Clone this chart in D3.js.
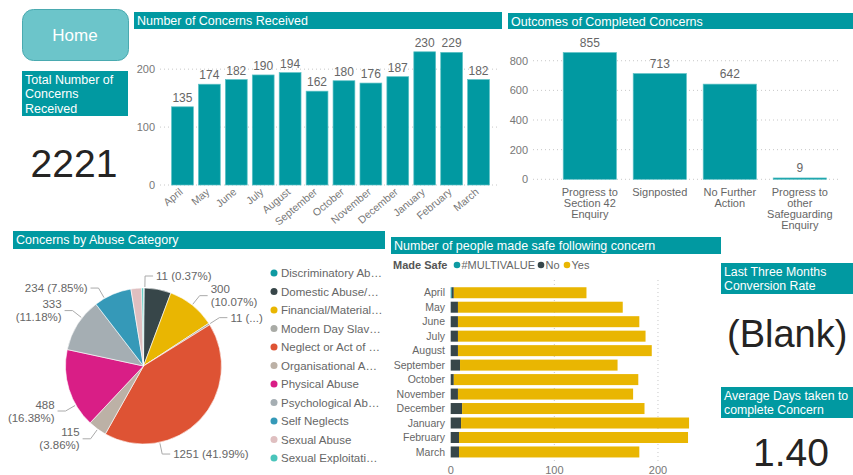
<!DOCTYPE html>
<html>
<head>
<meta charset="utf-8">
<script src="https://cdn.jsdelivr.net/npm/d3@7"></script>
<style>
body { margin: 0; background: #fff; }
svg { display: block; font-family: "Liberation Sans", Arial, sans-serif; }
</style>
</head>
<body>
<div id="chart"></div>
<script>
// ---- data ----
var months = ["April", "May", "June", "July", "August", "September", "October",
              "November", "December", "January", "February", "March"];
var concerns = [135, 174, 182, 190, 194, 162, 180, 176, 187, 230, 229, 182];
var concernTicks = [0, 100, 200];

var outcomeNames = ["Progress to Section 42 Enquiry", "Signposted", "No Further Action",
                    "Progress to other Safeguarding Enquiry"];
var outcomeLines = [["Progress to", "Section 42", "Enquiry"], ["Signposted"],
                    ["No Further", "Action"], ["Progress to", "other", "Safeguarding", "Enquiry"]];
var outcomeValues = [855, 713, 642, 9];
var outcomeTicks = [0, 200, 400, 600, 800];

var abuseCategories = ["Discriminatory Abuse", "Domestic Abuse/Violence", "Financial/Material Abuse",
                       "Modern Day Slavery", "Neglect or Act of Omission", "Organisational Abuse",
                       "Physical Abuse", "Psychological Abuse", "Self Neglects", "Sexual Abuse",
                       "Sexual Exploitation"];
var abuseLegend = ["Discriminatory Ab\u2026", "Domestic Abuse/\u2026", "Financial/Material\u2026",
                   "Modern Day Slav\u2026", "Neglect or Act of \u2026", "Organisational A\u2026",
                   "Physical Abuse", "Psychological Ab\u2026", "Self Neglects", "Sexual Abuse",
                   "Sexual Exploitati\u2026"];
var abuseValues = [5, 165, 300, 11, 1251, 115, 488, 333, 234, 66, 11];
var abuseColors = ["#0e9aa2", "#374649", "#e9b602", "#a9aba6", "#de5334", "#bcb1a6",
                   "#d91e86", "#a5aeb3", "#3599b8", "#dfbfc0", "#4ac5bb"];

var safeKeys = ["#MULTIVALUE", "No", "Yes"];
var safeColors = ["#0e9aa2", "#374649", "#e9b602"];
var safeMulti = [1, 0, 0, 0, 0, 0, 0, 0, 0, 0, 0, 0];
var safeNo = [2, 7, 7, 7, 7, 9, 3, 7, 11, 10, 8, 8];
var safeYes = [128, 159, 175, 181, 187, 152, 178, 169, 176, 220, 221, 174];
var safeTicks = [0, 100, 200];

var totalConcerns = "2221";
var conversionRate = "(Blank)";
var averageDays = "1.40";

// ---- layout ----
var W = 853, H = 475;
var teal = "#0199a1";
var grey = "#666";

var svg = d3.select("#chart").append("svg")
    .attr("width", W)
    .attr("height", H);

function header(x, y, w, h, lines, size) {
    svg.append("rect").attr("x", x).attr("y", y).attr("width", w).attr("height", h).attr("fill", teal);
    lines.forEach(function (t, i) {
        svg.append("text")
            .attr("x", x + 3)
            .attr("y", y + size + 0.5 + i * (size + 1.8))
            .attr("fill", "#fff")
            .attr("font-size", size)
            .text(t);
    });
}

// home button
svg.append("rect")
    .attr("x", 22.5).attr("y", 9.5).attr("width", 106).attr("height", 51)
    .attr("rx", 11).attr("fill", "#6cc5ca").attr("stroke", "#4aaab0");
svg.append("text")
    .attr("x", 75).attr("y", 41).attr("text-anchor", "middle")
    .attr("fill", "#fff").attr("font-size", 17).text("Home");

// total card
header(22, 71, 106, 45, ["Total Number of", "Concerns", "Received"], 12.5);
svg.append("text")
    .attr("x", 74).attr("y", 177).attr("text-anchor", "middle")
    .attr("fill", "#252423").attr("font-size", 39).text(totalConcerns);

// ---- Number of Concerns Received ----
header(134, 12, 368, 17, ["Number of Concerns Received"], 12.5);

var x1 = d3.scaleBand().domain(months).range([169, 492]).paddingInner(0.19).paddingOuter(0.095);
var y1 = d3.scaleLinear().domain([0, 240]).range([185, 46]);

var g1 = svg.append("g");
concernTicks.forEach(function (t) {
    g1.append("line")
        .attr("x1", 160).attr("x2", 500).attr("y1", y1(t)).attr("y2", y1(t))
        .attr("stroke", "#c8c8c8").attr("stroke-dasharray", "1,3");
    g1.append("text")
        .attr("x", 155).attr("y", y1(t)).attr("dy", "0.35em")
        .attr("text-anchor", "end").attr("fill", "#777").attr("font-size", 11).text(t);
});
g1.selectAll("rect.bar").data(concerns).enter().append("rect")
    .attr("class", "bar")
    .attr("x", function (d, i) { return x1(months[i]); })
    .attr("y", function (d) { return y1(d); })
    .attr("width", x1.bandwidth())
    .attr("height", function (d) { return y1(0) - y1(d); })
    .attr("fill", teal).attr("stroke", "#5cc1c5").attr("stroke-width", 0.7);
g1.selectAll("text.val").data(concerns).enter().append("text")
    .attr("class", "val")
    .attr("x", function (d, i) { return x1(months[i]) + x1.bandwidth() / 2; })
    .attr("y", function (d) { return y1(d) - 5; })
    .attr("text-anchor", "middle").attr("fill", grey).attr("font-size", 12)
    .text(function (d) { return d; });
g1.selectAll("text.mon").data(months).enter().append("text")
    .attr("class", "mon")
    .attr("transform", function (d) {
        return "translate(" + (x1(d) + x1.bandwidth() / 2 + 1) + ",193) rotate(-40)";
    })
    .attr("text-anchor", "end").attr("fill", "#777").attr("font-size", 10.5)
    .text(function (d) { return d; });

// ---- Outcomes of Completed Concerns ----
header(508, 13, 345, 16, ["Outcomes of Completed Concerns"], 12.5);

var x2 = d3.scaleBand().domain(outcomeNames).range([554.6, 835]).paddingInner(0.24).paddingOuter(0.123);
var y2 = d3.scaleLinear().domain([0, 900]).range([179.3, 45.9]);

var g2 = svg.append("g");
outcomeTicks.forEach(function (t) {
    g2.append("line")
        .attr("x1", 533).attr("x2", 838).attr("y1", y2(t)).attr("y2", y2(t))
        .attr("stroke", "#c8c8c8").attr("stroke-dasharray", "1,3");
    g2.append("text")
        .attr("x", 528).attr("y", y2(t)).attr("dy", "0.35em")
        .attr("text-anchor", "end").attr("fill", "#777").attr("font-size", 11).text(t);
});
g2.selectAll("rect").data(outcomeValues).enter().append("rect")
    .attr("x", function (d, i) { return x2(outcomeNames[i]); })
    .attr("y", function (d) { return y2(d); })
    .attr("width", x2.bandwidth())
    .attr("height", function (d) { return y2(0) - y2(d); })
    .attr("fill", teal).attr("stroke", "#5cc1c5").attr("stroke-width", 0.7);
g2.selectAll("text.val").data(outcomeValues).enter().append("text")
    .attr("class", "val")
    .attr("x", function (d, i) { return x2(outcomeNames[i]) + x2.bandwidth() / 2; })
    .attr("y", function (d) { return y2(d) - 6; })
    .attr("text-anchor", "middle").attr("fill", grey).attr("font-size", 12)
    .text(function (d) { return d; });
outcomeLines.forEach(function (lines, i) {
    lines.forEach(function (t, j) {
        g2.append("text")
            .attr("x", x2(outcomeNames[i]) + x2.bandwidth() / 2)
            .attr("y", 196 + j * 11)
            .attr("text-anchor", "middle").attr("fill", grey).attr("font-size", 11)
            .text(t);
    });
});

// ---- Concerns by Abuse Category ----
header(13, 231, 372, 18, ["Concerns by Abuse Category"], 12.5);

var cx = 143.5, cy = 366, R = 78;
var total = d3.sum(abuseValues);
var pie = d3.pie().sort(null).value(function (d) { return d; });
var arc = d3.arc().innerRadius(0).outerRadius(R);
var arcs = pie(abuseValues);

var g3 = svg.append("g").attr("transform", "translate(" + cx + "," + cy + ")");
g3.selectAll("path").data(arcs).enter().append("path")
    .attr("d", arc)
    .attr("fill", function (d, i) { return abuseColors[i]; })
    .attr("stroke", "#fff").attr("stroke-width", 0.6);

// where Power BI parked each data label (degrees clockwise from top), null = hidden
var labelAngle = [null, null, 38.6, 57.5, 168, 216, 240, 308, 330, null, 1];
var labelWrap = [false, false, true, false, false, true, true, true, false, false, false];

arcs.forEach(function (a, i) {
    if (labelAngle[i] === null) return;
    var ang = labelAngle[i] * Math.PI / 180;
    var sx = Math.sin(ang), sy = -Math.cos(ang);
    var side = sx >= 0 ? 1 : -1;
    var p0 = [sx * (R + 1), sy * (R + 1)];
    var p1 = [sx * (R + 12), sy * (R + 12)];
    var p2 = [p1[0] + side * 8, p1[1]];
    g3.append("polyline")
        .attr("points", [p0, p1, p2].map(function (p) { return p.join(","); }).join(" "))
        .attr("fill", "none").attr("stroke", "#aaa").attr("stroke-width", 1);
    var pct = (abuseValues[i] / total * 100).toFixed(2) + "%";
    var lines;
    if (abuseCategories[i] === "Modern Day Slavery") lines = [abuseValues[i] + " (...)"];
    else if (labelWrap[i]) lines = [String(abuseValues[i]), "(" + pct + ")"];
    else lines = [abuseValues[i] + " (" + pct + ")"];
    var t = g3.append("text")
        .attr("text-anchor", side > 0 ? "start" : "end")
        .attr("fill", grey).attr("font-size", 11.5);
    lines.forEach(function (s, j) {
        t.append("tspan")
            .attr("x", p2[0] + side * 3)
            .attr("y", p2[1] + 4 + (j - (lines.length - 1) / 2) * 13)
            .text(s);
    });
});

// legend
var lg = svg.append("g");
abuseLegend.forEach(function (name, i) {
    var yy = 273 + i * 18.5;
    lg.append("circle").attr("cx", 274).attr("cy", yy).attr("r", 3.5).attr("fill", abuseColors[i]);
    lg.append("text").attr("x", 281).attr("y", yy).attr("dy", "0.35em")
        .attr("fill", grey).attr("font-size", 11.5).text(name);
});

// ---- Number of people made safe following concern ----
header(391, 237, 330, 17, ["Number of people made safe following concern"], 12.5);

var lgy = 265;
svg.append("text").attr("x", 393).attr("y", lgy).attr("dy", "0.35em")
    .attr("fill", "#555").attr("font-size", 11).attr("font-weight", "bold").text("Made Safe");
var legendX = [457, 541, 567];
safeKeys.forEach(function (k, i) {
    svg.append("circle").attr("cx", legendX[i]).attr("cy", lgy).attr("r", 3.3).attr("fill", safeColors[i]);
    svg.append("text").attr("x", legendX[i] + 4.5).attr("y", lgy).attr("dy", "0.35em")
        .attr("fill", grey).attr("font-size", 11).text(k);
});

var rows = months.map(function (m, i) {
    return { month: m, "#MULTIVALUE": safeMulti[i], "No": safeNo[i], "Yes": safeYes[i] };
});
var stacked = d3.stack().keys(safeKeys)(rows);

var y4 = d3.scaleBand().domain(months).range([285.5, 459.2]).paddingInner(0.24).paddingOuter(0.12);
var x4 = d3.scaleLinear().domain([0, 250]).range([450.7, 709.8]);

var g4 = svg.append("g");
safeTicks.forEach(function (t) {
    if (t > 0) {
        g4.append("line")
            .attr("x1", x4(t)).attr("x2", x4(t)).attr("y1", 280).attr("y2", 461)
            .attr("stroke", "#c8c8c8").attr("stroke-dasharray", "1,3");
    }
    g4.append("text")
        .attr("x", x4(t)).attr("y", 474).attr("text-anchor", "middle")
        .attr("fill", "#777").attr("font-size", 11).text(t);
});
g4.selectAll("g.layer").data(stacked).enter().append("g")
    .attr("class", "layer")
    .attr("fill", function (d, i) { return safeColors[i]; })
    .selectAll("rect").data(function (d) { return d; }).enter().append("rect")
    .attr("x", function (d) { return x4(d[0]); })
    .attr("y", function (d) { return y4(d.data.month); })
    .attr("width", function (d) { return x4(d[1]) - x4(d[0]); })
    .attr("height", y4.bandwidth());
g4.selectAll("text.mon").data(months).enter().append("text")
    .attr("class", "mon")
    .attr("x", 445).attr("y", function (d) { return y4(d) + y4.bandwidth() / 2; })
    .attr("dy", "0.35em").attr("text-anchor", "end")
    .attr("fill", grey).attr("font-size", 10.5).text(function (d) { return d; });

// ---- right cards ----
header(721, 263, 132, 31, ["Last Three Months", "Conversion Rate"], 12.3);
svg.append("text").attr("x", 727).attr("y", 347)
    .attr("fill", "#252423").attr("font-size", 38)
    .text(conversionRate);

header(721, 387, 132, 31, ["Average Days taken to", "complete Concern"], 12.3);
svg.append("text").attr("x", 791).attr("y", 466).attr("text-anchor", "middle")
    .attr("fill", "#252423").attr("font-size", 39).text(averageDays);
</script>
</body>
</html>
